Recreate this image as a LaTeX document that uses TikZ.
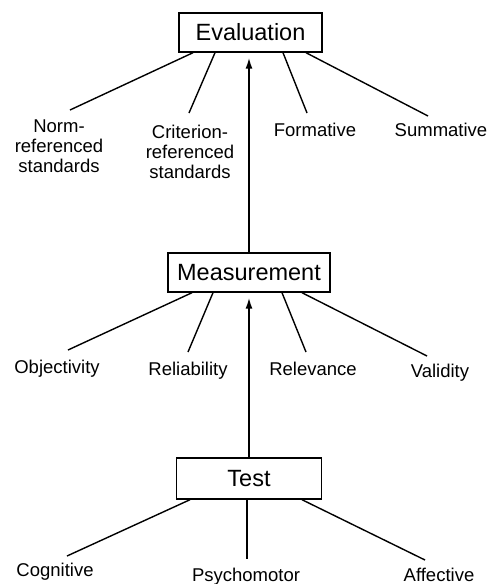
\documentclass[tikz,border=0pt]{standalone}
\usepackage{fontspec}
\setmainfont{Liberation Sans}
\usetikzlibrary{arrows.meta}
\begin{document}
\begin{tikzpicture}[x=1pt,y=-1pt,
  box/.style={draw,line width=1.4pt,inner sep=0pt,font=\fontsize{23.5}{26}\selectfont},
  lab/.style={inner sep=0pt,anchor=north,align=center,font=\fontsize{18.5}{20}\selectfont},
  link/.style={line width=1.4pt},
  up/.style={line width=1.6pt,-{Latex[length=11pt,width=7pt]},shorten >=5pt}]
\useasboundingbox (0,0) rectangle (490,584);
\fill[white] (0,0) rectangle (490,584);
% boxes
\node[box,minimum width=143pt,minimum height=39pt] (eval) at (250.5,32.5) {Evaluation};
\node[box,minimum width=162pt,minimum height=39pt] (meas) at (249,272.5) {Measurement};
\node[box,minimum width=145pt,minimum height=41pt] (test) at (249,478.5) {Test};
% top labels
\node[lab] (norm) at (59,120) {Norm-\\referenced\\standards};
\node[lab] (crit) at (190,125) {Criterion-\\referenced\\standards};
\node[lab] (form) at (315,123) {Formative};
\node[lab] (summ) at (441,123) {Summative};
% middle labels
\node[lab] (obj) at (57,360) {Objectivity};
\node[lab] (rel) at (188,362) {Reliability};
\node[lab] (relv) at (313,362) {Relevance};
\node[lab] (val) at (440,364) {Validity};
% bottom labels
\node[lab] (cog) at (55,563) {Cognitive};
\node[lab] (psy) at (246,568) {Psychomotor};
\node[lab] (aff) at (439,568) {Affective};
% links from Evaluation
\draw[link] ([xshift=-57.5pt]eval.south) -- ([shift={(11pt,10pt)}]norm.north);
\draw[link] ([xshift=-35.5pt]eval.south) -- ([shift={(-1pt,12pt)}]crit.north);
\draw[link] ([xshift=32.5pt]eval.south) -- ([shift={(-8pt,10pt)}]form.north);
\draw[link] ([xshift=55.5pt]eval.south) -- ([shift={(-13pt,7pt)}]summ.north);
% links from Measurement
\draw[link] ([xshift=-57pt]meas.south) -- ([shift={(11pt,10pt)}]obj.north);
\draw[link] ([xshift=-36pt]meas.south) -- ([shift={(0pt,10pt)}]rel.north);
\draw[link] ([xshift=33pt]meas.south) -- ([shift={(-7pt,10pt)}]relv.north);
\draw[link] ([xshift=53pt]meas.south) -- ([shift={(-13pt,8pt)}]val.north);
% links from Test
\draw[link] ([xshift=-59pt]test.south) -- ([shift={(12pt,7pt)}]cog.north);
\draw[link] ([xshift=-2pt]test.south) -- ([xshift=-2pt,yshift=9pt]test.south |- psy.north);
\draw[link] ([xshift=53pt]test.south) -- ([shift={(-14pt,8pt)}]aff.north);
% arrows
\draw[up] (test.north) -- (test.north |- meas.south);
\draw[up] (meas.north) -- (meas.north |- eval.south);
\end{tikzpicture}
\end{document}
